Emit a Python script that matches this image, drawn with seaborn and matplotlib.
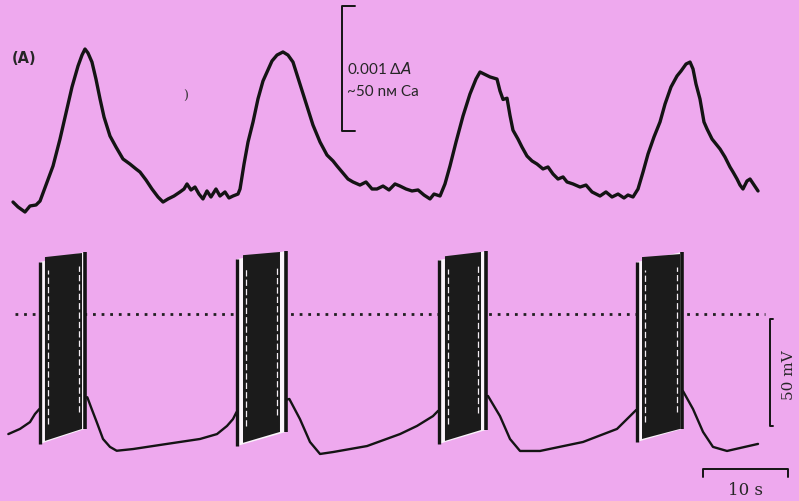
import numpy as np
import pandas as pd
import matplotlib
matplotlib.use('Agg')
import matplotlib.pyplot as plt
import seaborn as sns

# top trace: absorbance change (units of 0.001 dA) vs time (s)
ca_t = [0.0, 0.59, 1.41, 2.0, 2.71, 3.18, 3.88, 4.71, 5.53, 6.35, 6.94, 7.65, 8.12, 8.47, 8.82, 9.29,
        9.76, 10.24, 10.71, 11.41, 12.12, 12.94, 13.76, 14.47, 14.94, 15.65, 16.35, 17.06, 17.65,
        18.24, 18.94, 19.65, 20.12, 20.47, 20.94, 21.41, 21.88, 22.35, 22.82, 23.29, 23.88, 24.35,
        24.94, 25.41, 25.88, 26.47, 26.71, 27.18, 27.65, 28.24, 28.82, 29.41, 29.88, 30.47, 31.06,
        31.76, 32.35, 32.94, 33.76, 34.59, 35.29, 36.12, 36.94, 37.65, 38.12, 38.82, 39.41, 40.0,
        40.82, 41.53, 42.24, 42.82, 43.53, 44.24, 44.94, 45.53, 46.24, 46.94, 47.65, 48.35, 49.06,
        49.53, 50.24, 50.82, 51.41, 52.12, 52.94, 53.76, 54.47, 54.94, 55.41, 56.12, 56.94, 57.29,
        57.65, 58.12, 58.47, 58.82, 59.41, 59.88, 60.47, 61.06, 61.65, 62.35, 62.94, 63.53, 64.12,
        64.71, 65.18, 65.88, 66.71, 67.41, 68.12, 69.06, 69.76, 70.47, 71.18, 71.88, 72.35, 72.94,
        73.53, 74.12, 74.71, 75.41, 76.12, 76.71, 77.41, 78.12, 78.59, 79.18, 79.65, 80.0, 80.35,
        80.82, 81.29, 81.65, 82.24, 82.71, 83.18, 83.76, 84.35, 84.71, 85.18, 85.53, 85.88, 86.35,
        86.71, 87.18, 87.65]
ca_v = [0.016, -0.024, -0.065, -0.016, -0.008, 0.024, 0.154, 0.309, 0.528, 0.772, 0.951, 1.122,
        1.211, 1.26, 1.228, 1.154, 1.016, 0.854, 0.707, 0.553, 0.463, 0.366, 0.325, 0.285, 0.26,
        0.195, 0.122, 0.057, 0.016, 0.041, 0.065, 0.098, 0.122, 0.163, 0.114, 0.138, 0.081, 0.041,
        0.106, 0.057, 0.122, 0.065, 0.098, 0.049, 0.065, 0.081, 0.122, 0.325, 0.504, 0.667, 0.854,
        1.0, 1.073, 1.163, 1.211, 1.236, 1.211, 1.154, 0.976, 0.797, 0.642, 0.504, 0.398, 0.35,
        0.309, 0.252, 0.203, 0.179, 0.154, 0.179, 0.122, 0.122, 0.146, 0.114, 0.163, 0.146, 0.122,
        0.106, 0.114, 0.073, 0.041, 0.081, 0.065, 0.163, 0.309, 0.504, 0.715, 0.894, 1.016, 1.073,
        1.057, 1.033, 1.016, 0.92, 0.85, 0.86, 0.72, 0.6, 0.528, 0.463, 0.39, 0.35, 0.325,
        0.285, 0.301, 0.244, 0.203, 0.22, 0.179, 0.163, 0.138, 0.154, 0.098, 0.065, 0.098, 0.057,
        0.081, 0.049, 0.073, 0.057, 0.122, 0.26, 0.407, 0.545, 0.667, 0.813, 0.951, 1.041, 1.081,
        1.138, 1.154, 1.098, 0.976, 0.854, 0.667, 0.61, 0.528, 0.488, 0.447, 0.382, 0.301, 0.26,
        0.203, 0.154, 0.122, 0.187, 0.203, 0.154, 0.106]

# bottom trace: slow membrane potential wave (mV) vs time (s), between bursts
vm_t = [-0.55, 0.82, 2.0, 2.59, 3.1,
        8.74, 9.26, 9.85, 10.59, 11.41, 12.2, 14.12, 18.12, 22.0, 24.0, 25.18, 25.88, 26.3,
        32.51, 33.76, 34.94, 36.12, 37.65, 41.65, 45.53, 47.53, 49.41, 50.0,
        55.88, 57.29, 58.47, 59.65, 62.0, 67.06, 71.06, 72.59, 73.3,
        78.82, 80.0, 81.18, 82.35, 84.0, 87.65]
vm_v = [-56.1, -53.7, -50.5, -46.7, -44.4,
        -38.9, -44.4, -50.5, -58.4, -62.1, -63.9, -63.1, -60.7, -58.4, -56.1, -52.3, -49.1, -45.8,
        -39.7, -49.1, -59.8, -65.4, -64.5, -61.7, -56.1, -52.3, -47.7, -45.3,
        -38.3, -47.7, -58.4, -64.0, -64.0, -59.8, -53.7, -47.7, -44.9,
        -36.0, -44.4, -55.1, -62.1, -64.0, -60.7]

# spike bursts: first spike, dense block, last spike (s)
burst_first = [3.18, 26.35, 50.12, 73.41]
block_start = [3.76, 27.06, 50.82, 74.0]
block_end = [8.12, 31.41, 55.06, 78.47]
burst_last = [8.47, 32.12, 55.65, 78.71]
# voltages (mV)
first_top = [24.3, 25.7, 25.2, 24.3]
first_low = [-60.7, -61.7, -60.7, -59.8]
block_top = [[26.6, 28.5], [27.5, 29.0], [27.0, 29.0], [26.6, 28.0]]
block_low = [[-59.3, -53.7], [-60.2, -55.1], [-59.3, -54.2], [-58.4, -53.7]]
last_top = [29.0, 29.4, 29.4, 29.0]
last_low = [-53.7, -55.1, -54.2, -53.7]

bg = '#eea9ee'
ink = '#141414'
sns.set_theme(style='white')
plt.rcParams['font.family'] = ['DejaVu Serif', 'DejaVu Sans']
plt.rcParams['mathtext.fontset'] = 'dejavusans'
sans = ['Lato', 'DejaVu Sans']

fig = plt.figure(figsize=(7.99, 5.02), dpi=100, facecolor=bg)
ax1 = fig.add_axes([0, 0.5219, 1, 0.4781])
ax2 = fig.add_axes([0, 0, 1, 0.5219])
for ax in (ax1, ax2):
    ax.set_facecolor(bg)
    ax.set_xlim(-1.529, 92.47)
    ax.set_axis_off()

# top panel: calcium signal
ca = pd.DataFrame({'t': ca_t, 'v': ca_v})
sns.lineplot(data=ca, x='t', y='v', ax=ax1, color=ink, lw=2.4, sort=False, estimator=None)
ax1.set_ylim(-0.2846, 1.6667)
ax1.text(-0.1, 1.19, '(A)', fontsize=10.5, fontweight='bold', va='center', ha='left',
         family='DejaVu Sans')
ax1.text(20.3, 0.88, ')', fontsize=9, va='center', ha='center', color='#333333')
ax1.plot([40.2, 38.67, 38.67, 40.2], [1.61, 1.61, 0.595, 0.595], color=ink, lw=1.4)
ax1.text(39.3, 1.106, '0.001 Δ$A$', fontsize=11, va='center', ha='left', family=sans)
ax1.text(39.3, 0.915, '~50 nᴍ Ca', fontsize=11, va='center', ha='left', family=sans)

# bottom panel: membrane potential
vm = pd.DataFrame({'t': vm_t, 'v': vm_v})
sns.lineplot(data=vm, x='t', y='v', ax=ax2, color=ink, lw=1.7, sort=False, estimator=None)
ax2.set_ylim(-87.38, 35.05)
ax2.hlines(0, 0.24, 88.5, color='#202020', lw=2.0, linestyle=(0, (1, 2.1)), zorder=1)

for i in range(len(burst_first)):
    s, bs, be, e = burst_first[i], block_start[i], block_end[i], burst_last[i]
    # thin white gaps between the outer spikes and the dense block
    ax2.fill([s, e, e, s], [first_low[i], last_low[i], last_top[i], first_top[i]],
             color='#fbf4fb', lw=0, zorder=2)
    ax2.vlines(s, first_low[i], first_top[i], color=ink, lw=2.4, zorder=3)
    ax2.vlines(e, last_low[i], last_top[i], color=ink, lw=2.6, zorder=3)
    ax2.fill([bs, be, be, bs], [block_low[i][0], block_low[i][1], block_top[i][1], block_top[i][0]],
             color='#1b1b1b', lw=0, zorder=3)
    for x, f in [(bs + 0.3, 0.0), (be - 0.3, 1.0)]:
        y0 = block_low[i][0] + f * (block_low[i][1] - block_low[i][0]) + 8
        y1 = block_top[i][0] + f * (block_top[i][1] - block_top[i][0]) - 6
        ax2.vlines(x, y0, y1, color='#f4eef4', lw=0.9, linestyle=(0, (5, 2.5)), zorder=4)

# scale bars
ax2.plot([89.4, 89.06, 89.06, 89.4], [-2.3, -2.3, -52.3, -52.3], color=ink, lw=1.4)
ax2.text(91.35, -28.0, '50 mV', rotation=90, fontsize=11, va='center', ha='center')
ax2.plot([81.2, 81.2, 91.2, 91.2], [-76.2, -72.4, -72.4, -76.2], color=ink, lw=1.4)
ax2.text(86.2, -82.0, '10 s', fontsize=12, va='center', ha='center')

fig.savefig('out.png', dpi=100, facecolor=bg)
